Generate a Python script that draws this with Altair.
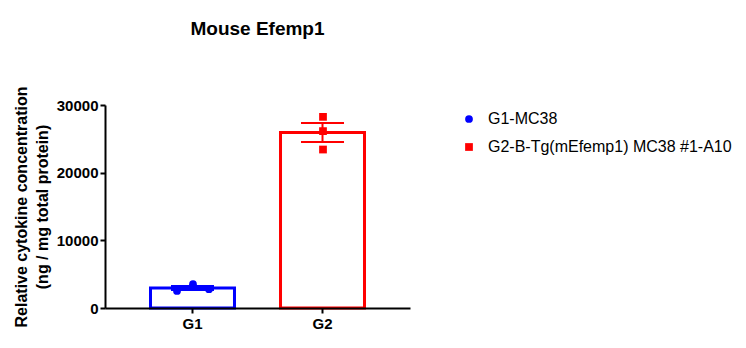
import altair as alt
import pandas as pd

# ---- data ----
groups = ["G1", "G2"]
group_labels = ["G1-MC38", "G2-B-Tg(mEfemp1) MC38 #1-A10"]
g1_values = [2525, 3520, 2777]
g2_values = [28250, 26140, 23420]
y_ticks = [0, 10000, 20000, 30000]
colors = ["#0000FF", "#FF0000"]
shapes = ["circle", "square"]

rows = []
for gi, (g, lab, vals) in enumerate(zip(groups, group_labels, [g1_values, g2_values])):
    for i, v in enumerate(vals):
        rows.append({"group": g, "gi": gi, "label": lab, "rep": i, "value": v})
df = pd.DataFrame(rows)

FONT = "Liberation Sans"
W, H = 305, 203
STEP = 130.0
C0 = 88.0  # centre of first band from left edge

xscale = alt.Scale(domain=groups, paddingInner=0.354, paddingOuter=0.35)
yscale = alt.Scale(domain=[0, 30000], nice=False)
cscale = alt.Scale(domain=group_labels, range=colors)
sscale = alt.Scale(domain=group_labels, range=shapes)

xaxis = alt.Axis(title=None, labelAngle=0, labelFont=FONT, labelFontSize=15,
                 labelFontWeight="bold", labelColor="black", domainColor="black",
                 domainWidth=2, tickColor="black", tickWidth=2, tickSize=5,
                 labelPadding=3, zindex=1, grid=False)
yaxis = alt.Axis(title=["Relative cytokine concentration", "(ng / mg total protein)"],
                 values=y_ticks, format="d", labelFont=FONT, labelFontSize=15,
                 labelFontWeight="bold", labelColor="black", domainColor="black",
                 domainWidth=2, tickColor="black", tickWidth=2, tickSize=5,
                 labelPadding=2, titleFont=FONT, titleFontSize=16,
                 titleFontWeight="bold", titleColor="black", titlePadding=6,
                 titleLineHeight=21, zindex=1, grid=False)

legend = alt.Legend(title=None, orient="none", legendX=356, legendY=6,
                    labelFont=FONT, labelFontSize=16, labelColor="black",
                    symbolSize=60, rowPadding=12, labelOffset=11, labelLimit=400,
                    symbolStrokeWidth=0)

base = alt.Chart(df)

stats = base.transform_aggregate(
    mean="mean(value)", sem="stderr(value)", groupby=["group", "label"]
).transform_calculate(
    lo="datum.mean - datum.sem", hi="datum.mean + datum.sem"
)

X = alt.X("group:N", scale=xscale, axis=xaxis, sort=groups)
Xn = alt.X("group:N", scale=xscale, axis=None, sort=groups)
C = alt.Color("label:N", scale=cscale)

bars = stats.mark_bar(filled=False, strokeWidth=3, opacity=1, strokeOpacity=1).encode(
    x=X,
    y=alt.Y("mean:Q", scale=yscale, axis=yaxis),
    color=C,
)
err = stats.mark_rule(strokeWidth=2, opacity=1).encode(x=Xn, y="lo:Q", y2="hi:Q", color=C)
cap_hi = stats.mark_tick(orient="horizontal", size=43, thickness=2, opacity=1).encode(
    x=Xn, y="hi:Q", color=C)
cap_lo = stats.mark_tick(orient="horizontal", size=43, thickness=2, opacity=1).encode(
    x=Xn, y="lo:Q", color=C)

points = base.transform_calculate(
    xpos="datum.gi + (datum.group == 'G1' ? (datum.rep - 1) * 0.123 : 0)"
).mark_point(filled=True, size=60, opacity=1).encode(
    x=alt.X("xpos:Q", axis=None,
            scale=alt.Scale(domain=[-C0 / STEP, (W - C0) / STEP], nice=False, zero=False)),
    y="value:Q",
    color=alt.Color("label:N", scale=cscale, legend=legend),
    shape=alt.Shape("label:N", scale=sscale, legend=legend),
)

chart = alt.layer(bars, err, cap_hi, cap_lo, points).resolve_scale(
    x="independent"
).properties(
    width=W, height=H,
    autosize=alt.AutoSizeParams(type="none"),
    padding={"left": 105, "top": 105, "right": 336, "bottom": 40},
    background="white",
    title=alt.TitleParams("Mouse Efemp1", font=FONT, fontSize=19, fontWeight="bold",
                          color="black", anchor="middle", offset=47),
).configure_view(strokeWidth=0)

chart.save("out.html", embed_options={"renderer": "svg", "actions": False})
